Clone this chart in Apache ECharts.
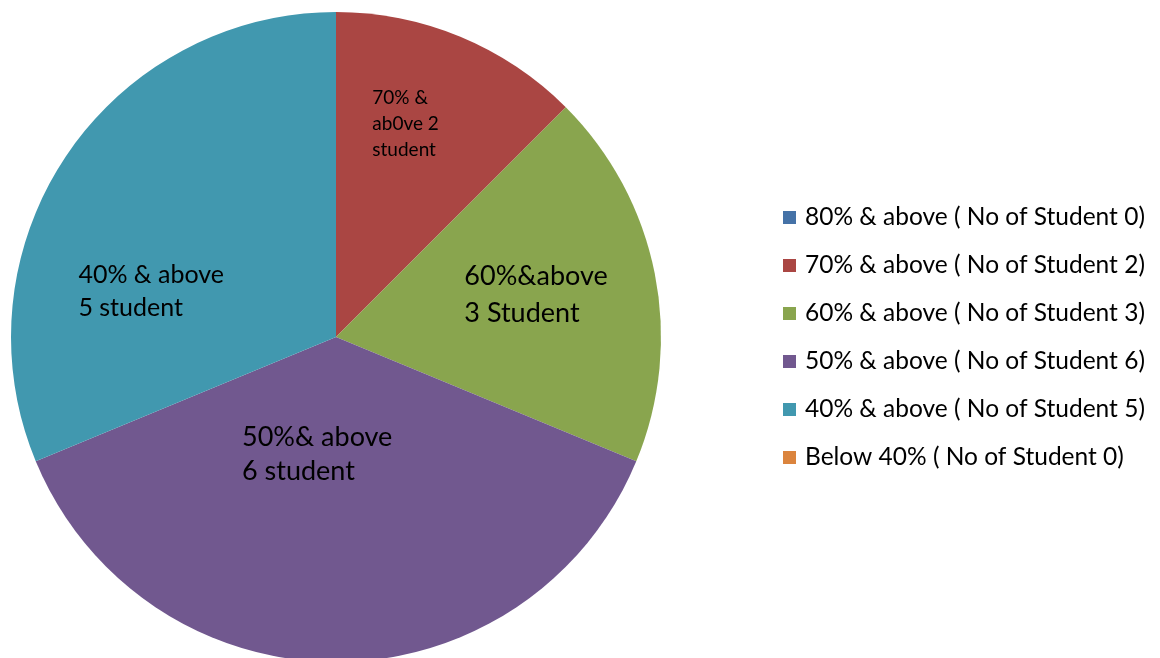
<!DOCTYPE html>
<html><head><meta charset="utf-8">
<script src="https://cdn.jsdelivr.net/npm/echarts@6/dist/echarts.min.js"></script>
<style>html,body{margin:0;padding:0;background:#fff}#c{width:1160px;height:658px}</style>
</head><body><div id="c"></div>
<script>
const categories = [
  "80% & above ( No of Student 0)",
  "70% & above ( No of Student 2)",
  "60% & above ( No of Student 3)",
  "50% & above ( No of Student 6)",
  "40% & above ( No of Student 5)",
  "Below 40% ( No of Student 0)"
];
const students = [0, 2, 3, 6, 5, 0];
const sliceLabels = ["", "70% &\nab0ve 2\nstudent", "60%&above\n3 Student", "50%& above\n6 student", "40% & above\n5 student", ""];
const colors = ["#4572A7", "#AA4643", "#89A54E", "#71588F", "#4198AF", "#DB843D"];

const FONT = "Lato, sans-serif";
const labelStyles = [
  null,
  {fontSize: 19, lineHeight: 26, shift: [-27, -60]},
  {fontSize: 27, lineHeight: 37, shift: [-34, -10]},
  {fontSize: 27, lineHeight: 34, shift: [-94, -48]},
  {fontSize: 25, lineHeight: 33, shift: [-120, 46]},
  null
];
const data = categories.map((n, i) => {
  const d = {name: n, value: students[i], itemStyle: {color: colors[i]}};
  if (labelStyles[i] && students[i] > 0) {
    d.label = {show: true, position: 'inside', color: '#000', fontFamily: FONT,
      fontSize: labelStyles[i].fontSize, lineHeight: labelStyles[i].lineHeight,
      formatter: sliceLabels[i]};
  } else {
    d.label = {show: false};
  }
  return d;
});

const chart = echarts.init(document.getElementById('c'));
chart.setOption({
  animation: false,
  legend: {
    orient: 'vertical', left: 778, top: 200,
    icon: 'rect', itemWidth: 13, itemHeight: 13, itemGap: 23,
    textStyle: {fontSize: 24.5, lineHeight: 25, color: '#000', fontFamily: FONT, padding: [0,0,0,4]},
    data: categories
  },
  series: [{
    type: 'pie', center: [336, 337], radius: 325, startAngle: 90, clockwise: true,
    silent: true, labelLine: {show: false},
    itemStyle: {borderWidth: 0},
    labelLayout: function (p) {
      const s = labelStyles[p.dataIndex];
      if (!s) return {};
      return {dx: s.shift[0], dy: s.shift[1], align: 'left', verticalAlign: 'middle'};
    },
    data: data
  }]
});
</script></body></html>
